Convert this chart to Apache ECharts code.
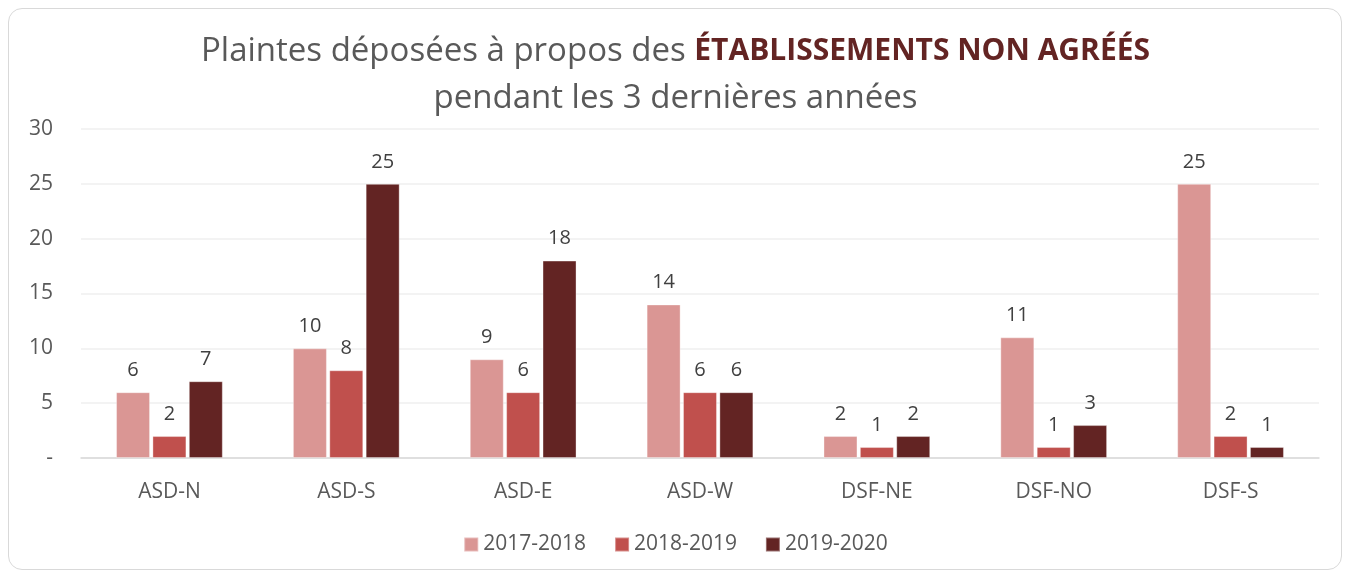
<!DOCTYPE html>
<html><head><meta charset="utf-8">
<script src="https://cdn.jsdelivr.net/npm/echarts@6/dist/echarts.min.js"></script>
<style>html,body{margin:0;padding:0;background:#fff}#wrap{position:absolute;left:8px;top:8px;width:1334px;height:562px;border:1.5px solid #d9d9d9;border-radius:14px;box-sizing:border-box}#c{width:1351px;height:576px}</style>
</head><body><div id="wrap"></div><div id="c"></div>
<script>
const categories = ['ASD-N','ASD-S','ASD-E','ASD-W','DSF-NE','DSF-NO','DSF-S'];
const seriesNames = ['2017-2018','2018-2019','2019-2020'];
const s2017 = [6,10,9,14,2,11,25];
const s2018 = [2,8,6,6,1,1,2];
const s2019 = [7,25,18,6,2,3,1];
const yTicks = [0,5,10,15,20,25,30];
const colors = ['#DA9694','#C0504D','#632423'];
const font = "'Open Sans', 'Noto Sans', sans-serif";
const chart = echarts.init(document.getElementById('c'));
const mk = (name, data, i) => ({
  name, type:'bar', data, barWidth:34, barGap:'7%',
  itemStyle:{color:colors[i], borderColor:'rgba(255,255,255,0.35)', borderWidth:1},
  label:{show:true, position:'top', distance:12, color:'#404040', fontSize:20, fontFamily:font}
});
chart.setOption({
  animation:false,
  textStyle:{fontFamily:font},
  title:{
    left:'center', top:23,
    text:'{a|Plaintes déposées à propos des }{b|ÉTABLISSEMENTS NON AGRÉÉS}\n{a|pendant les 3 dernières années}',
    textStyle:{fontWeight:'normal', rich:{
      a:{fontSize:33, color:'#595959', fontWeight:'normal', fontFamily:font, lineHeight:47},
      b:{fontSize:30, color:'#632423', fontWeight:'bold', fontFamily:font, lineHeight:47}
    }}
  },
  legend:{
    bottom:16, left:'center', itemWidth:14, itemHeight:14, itemGap:28,
    icon:'rect', data:seriesNames,
    textStyle:{color:'#595959', fontSize:21, fontFamily:font}
  },
  grid:{left:81, right:32, top:129, bottom:118, containLabel:false},
  xAxis:{
    type:'category', data:categories,
    axisLine:{lineStyle:{color:'#d9d9d9', width:1.5}},
    axisTick:{show:false},
    axisLabel:{color:'#595959', fontSize:21, margin:24, fontFamily:font}
  },
  yAxis:{
    type:'value', min:0, max:30, interval:5,
    axisLine:{show:false}, axisTick:{show:false},
    splitLine:{lineStyle:{color:'#efefef', width:1.5}},
    axisLabel:{color:'#595959', fontSize:21, margin:28, fontFamily:font,
      formatter:v=> yTicks.includes(v) ? (v===0?'-':String(v)) : ''}
  },
  series:[mk(seriesNames[0],s2017,0), mk(seriesNames[1],s2018,1), mk(seriesNames[2],s2019,2)]
});
</script></body></html>
